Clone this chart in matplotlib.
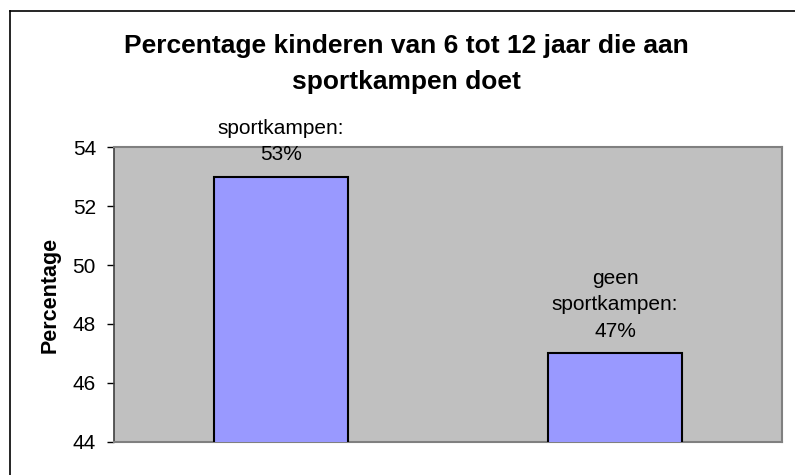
import matplotlib
matplotlib.use("Agg")
import matplotlib.pyplot as plt
from matplotlib.lines import Line2D

categories = ["sportkampen", "geen sportkampen"]
values = [53, 47]
label_texts = ["sportkampen:\n53%", "geen\nsportkampen:\n47%"]
yticks = [44, 46, 48, 50, 52, 54]
title = "Percentage kinderen van 6 tot 12 jaar die aan\nsportkampen doet"
ylabel = "Percentage"

plt.rcParams['font.family'] = ['Liberation Sans', 'DejaVu Sans']

W, H = 795, 475
fig = plt.figure(figsize=(W / 100, H / 100), dpi=100)
fig.patch.set_facecolor("white")

# outer frame (cut at right and bottom)
fig.add_artist(Line2D([10 / W, 1.0], [1 - 11 / H, 1 - 11 / H], transform=fig.transFigure,
                      color="black", lw=1.2))
fig.add_artist(Line2D([10 / W, 10 / W], [0, 1 - 11 / H], transform=fig.transFigure,
                      color="black", lw=1.2))

left, right, top, bottom = 114, 782, 147.3, 441.7
ax = fig.add_axes([left / W, 1 - bottom / H, (right - left) / W, (bottom - top) / H])
ax.set_facecolor("#C0C0C0")

x = range(len(categories))
ax.bar(x, values, width=0.4, color="#9999FF", edgecolor="black", linewidth=1.5, zorder=3)
ax.set_xlim(-0.5, len(categories) - 0.5)
ax.set_ylim(44, 54)
ax.set_yticks(yticks)
ax.set_yticklabels([str(t) for t in yticks], fontsize=15)
ax.tick_params(axis="y", direction="out", length=5, width=1, pad=8, colors="black")
ax.set_xticks([])

for s in ["top", "right", "bottom"]:
    ax.spines[s].set_color("#808080")
    ax.spines[s].set_linewidth(1.5)
ax.spines["left"].set_color("#404040")
ax.spines["left"].set_linewidth(1.2)

fig.text(50.5 / W, 1 - 295 / H, ylabel, rotation=90, ha="center", va="center",
         fontsize=15.5, fontweight="bold")

for xi, v, lt in zip(x, values, label_texts):
    ax.annotate(lt, xy=(xi, v), xytext=(0, 9), textcoords="offset points",
                ha="center", va="bottom", fontsize=15, linespacing=1.5, annotation_clip=False)

fig.text(406.5 / W, 1 - 64 / H, title, ha="center", va="center", fontsize=19,
         fontweight="bold", linespacing=1.6)

fig.savefig("out.png", dpi=100)
